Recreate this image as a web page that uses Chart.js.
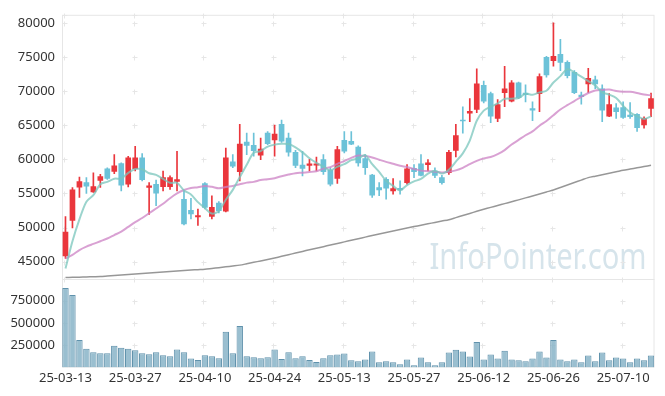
<!DOCTYPE html>
<html>
<head>
<meta charset="utf-8">
<script src="https://cdn.jsdelivr.net/npm/chart.js@4.4.1/dist/chart.umd.min.js"></script>
<style>
  html, body { margin: 0; padding: 0; background: #fff; }
  #wrap { width: 665px; height: 396px; position: relative; }
</style>
</head>
<body>
<div id="wrap"><canvas id="chart"></canvas></div>
<script>
// Fechas (días hábiles)
const dates = [
  '25-03-13','25-03-14','25-03-17','25-03-18','25-03-19','25-03-20','25-03-21','25-03-24','25-03-25','25-03-26',
  '25-03-27','25-03-28','25-03-31','25-04-01','25-04-02','25-04-03','25-04-04','25-04-07','25-04-08','25-04-09',
  '25-04-10','25-04-11','25-04-14','25-04-15','25-04-16','25-04-17','25-04-18','25-04-21','25-04-22','25-04-23',
  '25-04-24','25-04-25','25-04-28','25-04-29','25-04-30','25-05-02','25-05-07','25-05-08','25-05-09','25-05-12',
  '25-05-13','25-05-14','25-05-15','25-05-16','25-05-19','25-05-20','25-05-21','25-05-22','25-05-23','25-05-26',
  '25-05-27','25-05-28','25-05-29','25-05-30','25-06-02','25-06-04','25-06-05','25-06-09','25-06-10','25-06-11',
  '25-06-12','25-06-13','25-06-16','25-06-17','25-06-18','25-06-19','25-06-20','25-06-23','25-06-24','25-06-25',
  '25-06-26','25-06-27','25-06-30','25-07-01','25-07-02','25-07-03','25-07-04','25-07-07','25-07-08','25-07-09',
  '25-07-10','25-07-11','25-07-14','25-07-15','25-07-16'
];

const opens = [
  45830,51040,55910,56590,55240,56930,58620,58230,59390,56350,
  58620,60220,55870,56350,56010,56010,56780,54130,52530,51560,
  56450,51620,53590,52390,59640,58190,62530,62050,60600,63840,
  62870,65140,63110,61040,59160,59100,59150,59970,58430,57220,
  62780,62640,61810,60110,57710,55870,57070,55390,55770,56590,
  58670,59340,59240,58290,57320,58050,61330,65770,66780,67320,
  70840,69630,66010,69780,68520,71230,69730,67460,69630,74950,
  74460,75390,74230,72780,69440,71080,71660,70360,66340,67560,
  67610,66490,66590,65040,67460
];
const highs = [
  51620,55870,57420,57320,58040,57790,58770,60690,59490,60460,
  61910,60840,56590,56980,58290,57600,61190,55390,54270,52720,
  56590,54660,53800,61660,60690,65140,63840,63840,63110,64080,
  65040,65760,63840,61330,61190,60000,60320,60690,58770,61910,
  64080,64080,62000,60690,57790,56590,57320,57170,56840,59240,
  59240,60690,59970,58770,57650,61330,65140,67710,68910,73260,
  71470,69880,68760,73650,71560,71330,70940,68430,72530,75100,
  80020,77600,74460,73010,69880,73350,72200,70940,69630,68180,
  68430,68330,66730,66250,69730
];
const lows = [
  45480,49930,54420,55000,55140,55870,57070,57900,55390,55970,
  58290,56840,51910,53220,55390,55600,55390,50400,51270,50320,
  52720,51270,52140,52300,58770,56840,60690,60460,59970,62140,
  60460,62490,60460,58770,57560,58290,58290,57790,56110,56490,
  60940,62140,59010,57790,54420,54660,54180,54900,54900,56350,
  57320,57560,58290,57320,56350,57790,60360,63840,65530,66840,
  68290,65380,65530,67710,68430,68910,68430,65680,66980,72050,
  73650,73010,71950,69630,68080,69780,70360,65530,66250,66010,
  66010,66010,64080,64560,66250
];
const closes = [
  49350,55530,56740,56060,56010,57460,57220,59060,56200,60220,
  60220,57030,56110,55040,57320,57320,57030,50550,52000,51760,
  52970,52970,52480,60210,59010,62240,62050,61270,61520,62290,
  63690,62680,61040,59100,58660,59340,59340,58190,56350,61420,
  61190,62240,59490,58770,54750,55530,55770,55720,55530,58620,
  58190,57650,59490,57650,56590,61050,63500,65620,67030,71080,
  68520,66340,68040,70360,71230,69050,69490,67210,72140,72390,
  75100,74230,72290,69780,69200,71900,71080,67210,68040,66980,
  66160,66250,64660,66010,68910
];
const volumes = [
  890000,811000,309000,211000,170000,159000,159000,243000,222000,211000,
  192000,159000,148000,170000,138000,127000,203000,170000,101000,83000,
  138000,127000,105000,400000,159000,465000,127000,116000,105000,116000,
  203000,94000,170000,105000,127000,83000,61000,105000,136000,146000,
  156000,80000,69000,91000,178000,58000,69000,58000,36000,91000,
  25000,112000,58000,25000,58000,167000,200000,178000,123000,287000,
  91000,145000,102000,189000,91000,80000,69000,102000,178000,112000,
  309000,91000,69000,91000,58000,134000,69000,167000,80000,112000,
  102000,58000,102000,80000,134000
];
// Medias móviles
const ma5 = [
  44000,48000,51200,53800,54740,56360,56700,57160,57190,58030,
  58580,58550,57960,57720,57140,56560,56560,55450,54840,53730,
  52860,52050,52440,54080,55530,57380,59200,60960,61220,61870,
  62160,62290,62240,61760,61030,60160,59500,58930,58380,58930,
  59300,59880,60140,60620,59290,58160,56860,56110,55460,56230,
  56770,57140,57900,58320,57910,58490,59660,60880,62760,65660,
  67150,67720,68200,68870,68900,69000,69630,69470,69820,70060,
  71270,72210,73230,72760,72120,71480,70850,69830,69490,69010,
  67860,66890,66330,65930,66310
];
const ma20 = [
  45480,46000,46700,47200,47600,48000,48400,48900,49400,50100,
  50800,51400,52100,52800,53500,54300,55000,55500,55800,55910,
  56090,55970,55750,55960,56110,56350,56590,56700,56970,57070,
  57240,57530,57770,57980,58040,58140,58260,58640,58860,59340,
  59750,60220,60570,60490,60280,59950,59630,59350,59060,58870,
  58600,58350,58270,58200,58090,58180,58390,58760,59290,59770,
  60140,60350,60770,61350,62180,62850,63540,64110,64940,65630,
  66480,67310,67950,68550,69180,69730,70100,70180,70230,70030,
  69910,69910,69740,69500,69390
];
const ma120 = [
  42680,42700,42720,42750,42790,42830,42900,42970,43050,43120,
  43190,43260,43330,43410,43480,43550,43620,43690,43760,43830,
  43900,44010,44120,44240,44360,44490,44690,44900,45110,45320,
  45540,45780,46020,46260,46500,46740,46970,47200,47440,47670,
  47900,48130,48360,48600,48830,49060,49280,49490,49710,49920,
  50140,50340,50550,50750,50960,51160,51460,51770,52070,52380,
  52680,52960,53230,53510,53780,54060,54350,54640,54930,55220,
  55510,55870,56230,56600,56960,57320,57540,57750,57970,58180,
  58400,58580,58760,58950,59130
];
const priceTicks = [45000, 50000, 55000, 60000, 65000, 70000, 75000, 80000];
const volumeTicks = [250000, 500000, 750000];

const upColor = '#ea363c';
const downColor = '#6cc2d8';
const candleColor = (ctx) => closes[ctx.dataIndex] >= opens[ctx.dataIndex] ? upColor : downColor;

const tickFont = { family: '"Noto Sans", sans-serif', size: 13 };
const frameColor = '#e6e6e6';

// Marco, cruces de rejilla y marca de agua
const panelDecor = {
  id: 'panelDecor',
  beforeDatasetsDraw(chart) {
    const { ctx, chartArea: a, scales } = chart;
    const sep = scales.yv.top;

    ctx.save();
    ctx.font = '36px "Noto Sans"';
    ctx.fillStyle = 'rgba(120,165,190,0.3)';
    const text = 'InfoPointer.com';
    const w = ctx.measureText(text).width;
    ctx.translate(a.right - 8 - 217, scales.y.bottom - 10);
    ctx.scale(217 / w, 1);
    ctx.fillText(text, 0, 0);
    ctx.restore();

    ctx.save();
    ctx.strokeStyle = frameColor;
    ctx.lineWidth = 1;
    ctx.strokeRect(a.left + 0.5, a.top + 0.5, a.right - a.left - 1, a.bottom - a.top - 1);
    ctx.beginPath();
    ctx.moveTo(a.left, Math.round(sep) + 0.5);
    ctx.lineTo(a.right, Math.round(sep) + 0.5);
    ctx.stroke();

    const xs = [];
    dates.forEach((d, i) => { if (i % 10 === 0) xs.push(scales.x.getPixelForValue(i) - 1.5); });
    const ys = [a.top, sep]
      .concat(priceTicks.map(v => scales.y.getPixelForValue(v)))
      .concat(volumeTicks.map(v => scales.yv.getPixelForValue(v)));
    ctx.strokeStyle = '#e6e6e6';
    ctx.beginPath();
    xs.forEach(x => {
      ys.forEach(y => {
        const px = Math.round(x) + 0.5, py = Math.round(y) + 0.5;
        ctx.moveTo(px - 2, py); ctx.lineTo(px + 3, py);
        ctx.moveTo(px, py - 2); ctx.lineTo(px, py + 3);
      });
    });
    ctx.stroke();
    ctx.restore();
  }
};

const data = {
  labels: dates,
  datasets: [
    {
      type: 'line', label: 'MA5', data: ma5, yAxisID: 'y',
      borderColor: 'rgba(122,198,188,0.75)', borderWidth: 2, pointRadius: 0, tension: 0.3, order: 1,
    },
    {
      type: 'line', label: 'MA20', data: ma20, yAxisID: 'y',
      borderColor: 'rgba(204,130,196,0.75)', borderWidth: 2, pointRadius: 0, tension: 0.3, order: 2,
    },
    {
      type: 'line', label: 'MA120', data: ma120, yAxisID: 'y',
      borderColor: 'rgba(140,140,140,0.9)', borderWidth: 1.5, pointRadius: 0, tension: 0.3, order: 3,
    },
    {
      type: 'bar', label: 'Cuerpo', yAxisID: 'y',
      data: opens.map((o, i) => [o, closes[i]]),
      backgroundColor: candleColor, barThickness: 5, grouped: false, order: 4,
    },
    {
      type: 'bar', label: 'Mecha', yAxisID: 'y',
      data: lows.map((l, i) => [l, highs[i]]),
      backgroundColor: candleColor, barThickness: 1, grouped: false, order: 5,
    },
    {
      type: 'bar', label: 'Volumen', yAxisID: 'yv', data: volumes,
      backgroundColor: 'rgba(140,182,202,0.88)', borderColor: 'rgb(96,146,172)', borderWidth: 1,
      barPercentage: 0.92, categoryPercentage: 1, grouped: false, order: 6,
    },
  ],
};

const plainTick = v => String(v);

const config = {
  type: 'bar',
  data: data,
  options: {
    responsive: true,
    maintainAspectRatio: false,
    animation: false,
    layout: { padding: { top: 10, right: 10.5, left: 0, bottom: 0 } },
    plugins: {
      legend: { display: false },
      tooltip: { enabled: false },
    },
    scales: {
      x: {
        type: 'category',
        offset: true,
        grid: { display: false, drawTicks: false },
        border: { display: false },
        ticks: {
          autoSkip: false, maxRotation: 0, padding: 3, color: '#333', font: tickFont,
          callback: (v, i) => i % 10 === 0 ? dates[i] : '',
        },
        afterFit: s => { s.height = 28.5; },
      },
      yv: {
        type: 'linear', position: 'left', stack: 'panes', stackWeight: 1,
        min: 0, max: 995000,
        afterBuildTicks: s => { s.ticks = volumeTicks.map(v => ({ value: v })); },
        grid: { display: false, drawTicks: false },
        border: { display: false },
        ticks: { padding: 7, color: '#333', font: tickFont, callback: plainTick },
        afterFit: s => { s.width = 62; },
      },
      y: {
        type: 'linear', position: 'left', stack: 'panes', stackWeight: 2.972,
        min: 42500, max: 81200,
        afterBuildTicks: s => { s.ticks = priceTicks.map(v => ({ value: v })); },
        grid: { display: false, drawTicks: false },
        border: { display: false },
        ticks: { padding: 7, color: '#333', font: tickFont, callback: plainTick },
        afterFit: s => { s.width = 62; },
      },
    },
  },
  plugins: [panelDecor],
};

new Chart(document.getElementById('chart'), config);
</script>
</body>
</html>
